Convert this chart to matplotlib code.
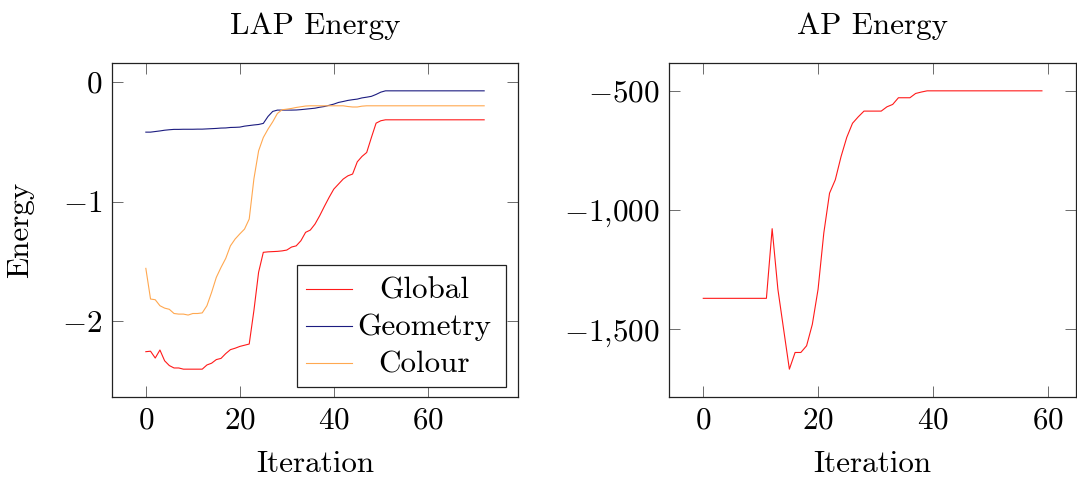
"""LAP / AP energy curves, pgfplots look-alike."""

import matplotlib
matplotlib.use('Agg')
import matplotlib.pyplot as plt
from matplotlib.ticker import FuncFormatter
from matplotlib.lines import Line2D
import matplotlib.patches as patches

plt.rcParams['font.family'] = 'serif'
plt.rcParams['font.serif'] = ['cmr10']
plt.rcParams['mathtext.fontset'] = 'cm'
plt.rcParams['axes.formatter.use_mathtext'] = True

FS = 22.4

# LAP energy, iterations 0..72
lap_global = [
    -2.254, -2.25, -2.307, -2.24, -2.33, -2.37, -2.39, -2.39, -2.40, -2.40,
    -2.40, -2.40, -2.40, -2.365, -2.35, -2.32, -2.31, -2.27, -2.237, -2.225,
    -2.21, -2.20, -2.19, -1.91, -1.59, -1.424, -1.42, -1.418, -1.416, -1.412,
    -1.405, -1.38, -1.37, -1.327, -1.257, -1.238, -1.188, -1.118, -1.04, -0.965,
    -0.896, -0.854, -0.812, -0.785, -0.77, -0.668, -0.623, -0.59, -0.465, -0.345,
    -0.325, -0.317, -0.317, -0.317, -0.317, -0.317, -0.317, -0.317, -0.317, -0.317,
    -0.317, -0.317, -0.317, -0.317, -0.317, -0.317, -0.317, -0.317, -0.317, -0.317,
    -0.317, -0.317, -0.317,
]
lap_geometry = [
    -0.42, -0.42, -0.415, -0.41, -0.404, -0.40, -0.397, -0.397, -0.396, -0.396,
    -0.396, -0.395, -0.395, -0.393, -0.391, -0.389, -0.386, -0.385, -0.381, -0.38,
    -0.378, -0.37, -0.365, -0.36, -0.356, -0.347, -0.289, -0.247, -0.236, -0.236,
    -0.236, -0.236, -0.235, -0.232, -0.228, -0.224, -0.22, -0.212, -0.206, -0.196,
    -0.186, -0.172, -0.164, -0.155, -0.149, -0.144, -0.134, -0.128, -0.121, -0.105,
    -0.086, -0.075, -0.075, -0.075, -0.075, -0.075, -0.075, -0.075, -0.075, -0.075,
    -0.075, -0.075, -0.075, -0.075, -0.075, -0.075, -0.075, -0.075, -0.075, -0.075,
    -0.075, -0.075, -0.075,
]
lap_colour = [
    -1.558, -1.814, -1.82, -1.87, -1.89, -1.90, -1.935, -1.94, -1.94, -1.948,
    -1.935, -1.935, -1.93, -1.87, -1.758, -1.633, -1.55, -1.475, -1.37, -1.313,
    -1.27, -1.23, -1.146, -0.81, -0.576, -0.465, -0.395, -0.334, -0.264, -0.233,
    -0.228, -0.222, -0.214, -0.208, -0.202, -0.2, -0.2, -0.2, -0.2, -0.2,
    -0.2, -0.2, -0.2, -0.206, -0.21, -0.21, -0.203, -0.2, -0.2, -0.2,
    -0.2, -0.2, -0.2, -0.2, -0.2, -0.2, -0.2, -0.2, -0.2, -0.2,
    -0.2, -0.2, -0.2, -0.2, -0.2, -0.2, -0.2, -0.2, -0.2, -0.2,
    -0.2, -0.2, -0.2,
]
lap_iter = list(range(len(lap_global)))

# AP energy, iterations 0..59
ap_energy = [
    -1370, -1370, -1370, -1370, -1370, -1370, -1370, -1370, -1370, -1370,
    -1370, -1370, -1078, -1332, -1500, -1667, -1597, -1597, -1569, -1479,
    -1332, -1096, -929, -873, -776, -695, -636, -609, -585, -585,
    -585, -585, -567, -557, -529, -529, -529, -511, -505, -500,
    -500, -500, -500, -500, -500, -500, -500, -500, -500, -500,
    -500, -500, -500, -500, -500, -500, -500, -500, -500, -500,
]
ap_iter = list(range(len(ap_energy)))

series_names = ['Global', 'Geometry', 'Colour']
series_colors = ['#ff1a1a', '#1c1c80', '#ffa850']

W, H = 1077, 478
fig = plt.figure(figsize=(W / 100, H / 100), dpi=100)
ax1 = fig.add_axes([112 / W, 1 - 397 / H, 406 / W, 334 / H])
ax2 = fig.add_axes([669.4 / W, 1 - 397 / H, 406.4 / W, 334 / H])


def enlarge(lo, hi, f=0.1):
    r = hi - lo
    return lo - f * r, hi + f * r


def style(ax):
    ax.tick_params(direction='in', length=8, width=0.6, color='#555555',
                   top=True, right=True, labelsize=FS, pad=7)
    for sp in ax.spines.values():
        sp.set_linewidth(0.9)
        sp.set_color('#222222')


def minus_fmt(v, pos):
    s = f'{abs(int(round(v))):,}'.replace(',', '{,}')
    return f'${"-" if v < 0 else ""}{s}$'


# left panel
for ys, c in zip([lap_global, lap_geometry, lap_colour], series_colors):
    ax1.plot(lap_iter, ys, color=c, lw=0.8)
ax1.set_xlim(*enlarge(min(lap_iter), max(lap_iter)))
all_lap = lap_global + lap_geometry + lap_colour
ax1.set_ylim(*enlarge(min(all_lap), max(all_lap)))
ax1.set_xticks([0, 20, 40, 60])
ax1.set_yticks([-2, -1, 0])
ax1.xaxis.set_major_formatter(FuncFormatter(minus_fmt))
ax1.yaxis.set_major_formatter(FuncFormatter(minus_fmt))
style(ax1)
ax1.set_title('LAP Energy', fontsize=FS, pad=21)
ax1.set_xlabel('Iteration', fontsize=FS, labelpad=12)
ax1.set_ylabel('Energy', fontsize=FS, labelpad=20)

# hand-made pgfplots style legend
ax1.add_patch(patches.Rectangle((0.4557, 0.0308), 0.514, 0.3642, transform=ax1.transAxes,
                                facecolor='white', edgecolor='#222222', lw=0.9, zorder=5))
leg_y = [0.3234, 0.2126, 0.1009]
for name, c, ly in zip(series_names, series_colors, leg_y):
    ax1.add_line(Line2D([0.478, 0.590], [ly, ly], transform=ax1.transAxes,
                        color=c, lw=0.8, zorder=6))
    ax1.text(0.769, ly - 0.027, name, transform=ax1.transAxes, ha='center',
             va='baseline', fontsize=FS, zorder=6)

# right panel
ax2.plot(ap_iter, ap_energy, color=series_colors[0], lw=0.8)
ax2.set_xlim(*enlarge(min(ap_iter), max(ap_iter)))
ax2.set_ylim(*enlarge(min(ap_energy), max(ap_energy)))
ax2.set_xticks([0, 20, 40, 60])
ax2.set_yticks([-1500, -1000, -500])
ax2.xaxis.set_major_formatter(FuncFormatter(minus_fmt))
ax2.yaxis.set_major_formatter(FuncFormatter(minus_fmt))
style(ax2)
ax2.set_title('AP Energy', fontsize=FS, pad=21)
ax2.set_xlabel('Iteration', fontsize=FS, labelpad=12)

fig.savefig('out.png', dpi=100, facecolor='white')
